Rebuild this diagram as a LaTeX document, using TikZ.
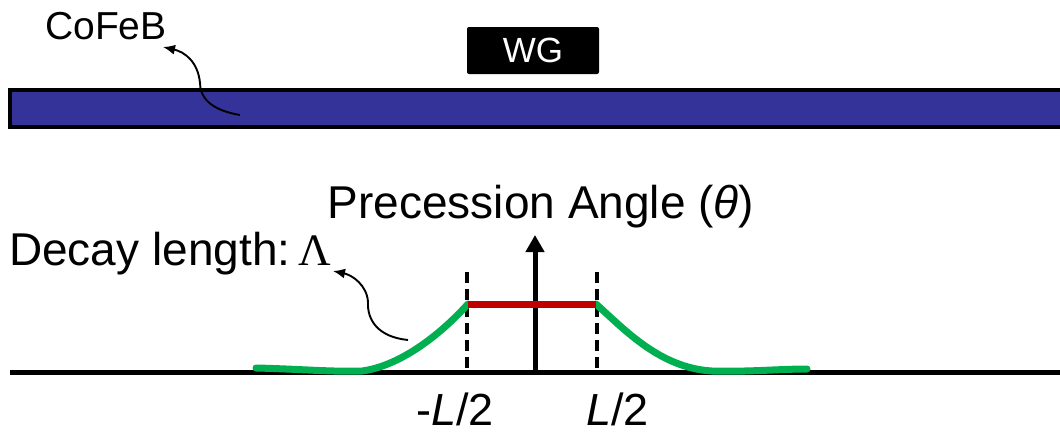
\documentclass[tikz,border=0pt]{standalone}
\usepackage{fontspec}
\setmainfont{Liberation Sans}
\newfontfamily\greekserif{Liberation Serif}
\usetikzlibrary{arrows.meta,calc}
\definecolor{filmblue}{RGB}{51,51,153}
\definecolor{flatred}{RGB}{192,0,0}
\definecolor{decaygreen}{RGB}{0,176,80}

\begin{document}
\begin{tikzpicture}[
  x=1pt, y=-1pt,
  lbl/.style={inner sep=0pt, font=\fontsize{39}{46}\selectfont},
  biglbl/.style={inner sep=0pt, font=\fontsize{46}{54}\selectfont},
  wgbox/.style={rectangle, fill=black, rounded corners=2pt, minimum width=132pt, minimum height=47pt, text=white, font=\fontsize{35}{42}\selectfont},
  film/.style={rectangle, draw=black, line width=4pt, fill=filmblue, minimum width=1058pt, minimum height=37pt, inner sep=0pt},
  pointer/.style={-{Latex[length=12pt,width=10pt]}, line width=1.9pt},
  axis/.style={line width=5pt},
  edge/.style={dash pattern=on 11pt off 6pt, line width=3.2pt},
  profile/.style={line width=7pt, line cap=round}
]
\useasboundingbox (0,0) rectangle (1060,434);

% layer and waveguide
\node[film] (cofebfilm) at (539,108.5) {};
\node[wgbox] (wg) at (533,50.5) {WG};
\node[lbl] (cofeb) at (106,26.5) {CoFeB};
\coordinate (cofebsrc) at (240,115);
\coordinate (cofebtip) at (163,47);
\draw[pointer] (cofebsrc) .. controls (210,110) and (200,97) .. (200,83)
  .. controls (198,62) and (185,52) .. (cofebtip);

% axes
\coordinate (axl) at (10,372);
\coordinate (axr) at (1068,372);
\coordinate (origin) at (535,372);
\coordinate (ytip) at (535,235);
\draw[axis] (axl) -- (axr);
\draw[axis, -{Triangle[length=17pt,width=18pt]}] (origin) -- (ytip);
\node[biglbl, anchor=base] (ylabel) at (541,218) {Precession Angle (\textit{θ})};

% edges of the waveguide
\coordinate (lefttop) at (467,272);
\coordinate (leftbot) at (467,368);
\coordinate (righttop) at (597,272);
\coordinate (rightbot) at (597,368);
\draw[edge] (lefttop) -- (leftbot);
\draw[edge] (righttop) -- (rightbot);

% precession profile
\coordinate (flatl) at (468,304);
\coordinate (flatr) at (596,304);
\coordinate (taill) at (256,368);
\coordinate (tailr) at (807,369);
\draw[profile, decaygreen] (taill) .. controls (300,369) and (330,372) .. (362,371)
  .. controls (400,366) and (440,335) .. (flatl);
\draw[profile, decaygreen] (flatr) .. controls (625,330) and (660,368) .. (712,371)
  .. controls (750,372) and (780,369) .. (tailr);
\draw[line width=7pt, flatred] (flatl) -- (flatr);

% decay length
\node[biglbl, anchor=base west] (decay) at (9,265) {Decay length:\,{\greekserif\fontsize{45}{52}\selectfont Λ}};
\coordinate (decaysrc) at (408,340);
\coordinate (decaytip) at (333,271);
\draw[pointer] (decaysrc) .. controls (378,337) and (367,320) .. (368,302)
  .. controls (367,285) and (352,275) .. (decaytip);

% tick labels
\node[biglbl, anchor=base west, font=\fontsize{45}{54}\selectfont] (lminus) at (416,425) {-\textit{L}/2};
\node[biglbl, anchor=base west, font=\fontsize{45}{54}\selectfont] (lplus) at (586,425) {\textit{L}/2};
\end{tikzpicture}
\end{document}
